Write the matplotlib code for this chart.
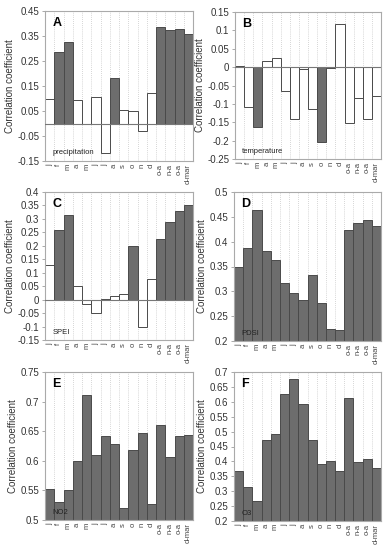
import matplotlib
matplotlib.use("Agg")
import matplotlib.pyplot as plt
import numpy as np

plt.rcParams['font.family'] = ['Liberation Sans', 'DejaVu Sans']

months = ["j", "f", "m", "a", "m", "j", "j", "a", "s", "o", "n", "d",
          "o-a", "n-a", "o-a", "d-mar"]

precipitation = [0.097, 0.286, 0.326, 0.095, -0.003, 0.106, -0.118, 0.183,
                 0.053, 0.049, -0.031, 0.122, 0.386, 0.374, 0.379, 0.359]
precip_sig = [0, 1, 1, 0, 0, 0, 0, 1, 0, 0, 0, 0, 1, 1, 1, 1]

temperature = [0.002, -0.109, -0.164, 0.016, 0.024, -0.066, -0.141, -0.005,
               -0.114, -0.205, -0.003, 0.116, -0.151, -0.084, -0.141, -0.078]
temp_sig = [0, 0, 1, 0, 0, 0, 0, 0, 0, 1, 0, 0, 0, 0, 0, 0]

spei = [0.127, 0.257, 0.316, 0.049, -0.015, -0.048, 0.004, 0.015,
        0.022, 0.199, -0.101, 0.078, 0.226, 0.287, 0.331, 0.350]
spei_sig = [0, 1, 1, 0, 0, 0, 0, 0, 0, 1, 0, 0, 1, 1, 1, 1]

pdsi = [0.348, 0.387, 0.464, 0.382, 0.364, 0.317, 0.296, 0.282,
        0.333, 0.277, 0.224, 0.222, 0.423, 0.437, 0.444, 0.431]
pdsi_sig = [1] * 16

no2 = [0.552, 0.531, 0.551, 0.600, 0.711, 0.610, 0.642, 0.628,
       0.520, 0.618, 0.647, 0.527, 0.660, 0.607, 0.642, 0.644]
no2_sig = [1] * 16

o3 = [0.369, 0.315, 0.266, 0.473, 0.493, 0.627, 0.675, 0.593,
      0.473, 0.391, 0.403, 0.369, 0.612, 0.399, 0.408, 0.379]
o3_sig = [1] * 16

panels = [
    ("A", "precipitation", precipitation, precip_sig, (-0.15, 0.45),
     [-0.15, -0.05, 0.05, 0.15, 0.25, 0.35, 0.45], True),
    ("B", "temperature", temperature, temp_sig, (-0.25, 0.15),
     [-0.25, -0.2, -0.15, -0.1, -0.05, 0, 0.05, 0.1, 0.15], True),
    ("C", "SPEI", spei, spei_sig, (-0.15, 0.4),
     [-0.15, -0.1, -0.05, 0, 0.05, 0.1, 0.15, 0.2, 0.25, 0.3, 0.35, 0.4], True),
    ("D", "PDSI", pdsi, pdsi_sig, (0.2, 0.5),
     [0.2, 0.25, 0.3, 0.35, 0.4, 0.45, 0.5], False),
    ("E", "NO2", no2, no2_sig, (0.5, 0.75),
     [0.5, 0.55, 0.6, 0.65, 0.7, 0.75], False),
    ("F", "O3", o3, o3_sig, (0.2, 0.7),
     [0.2, 0.25, 0.3, 0.35, 0.4, 0.45, 0.5, 0.55, 0.6, 0.65, 0.7], False),
]

W, H = 390, 550
fig = plt.figure(figsize=(W / 100, H / 100), dpi=100)

# pixel boxes: left, top, right, bottom
boxes = [
    (45, 11, 193, 161), (235, 12, 381, 159),
    (45, 192, 193, 340), (234, 192, 381, 341),
    (45, 372, 193, 520), (234, 372, 381, 521),
]

def fmt(v):
    s = ("%.2f" % v).rstrip("0").rstrip(".")
    if s == "-0":
        s = "0"
    return s

dark = "#6d6d6d"
edge = "#4a4a4a"
x = np.arange(len(months))

for (letter, name, vals, sig, ylim, yt, zero), (l, t, r, b) in zip(panels, boxes):
    ax = fig.add_axes([l / W, 1 - b / H, (r - l) / W, (b - t) / H])
    base = 0 if zero else ylim[0]
    heights = [v - base for v in vals]
    colors = [dark if s else "white" for s in sig]
    ax.bar(x, heights, bottom=base, width=1.0, color=colors, edgecolor=edge,
           linewidth=0.7, zorder=2)
    for xi in x[:-1]:
        ax.axvline(xi + 0.5, color="#c8c8c8", linestyle=(0, (1, 1.5)),
                   linewidth=0.6, zorder=1)
    if zero:
        ax.axhline(0, color="#777777", linewidth=0.8, zorder=3)
    ax.set_xlim(-0.5, len(months) - 0.5)
    ax.set_ylim(*ylim)
    ax.set_yticks(yt)
    ax.set_yticklabels([fmt(v) for v in yt], fontsize=7, color="#333333")
    ax.set_xticks(x)
    ax.set_xticklabels(months, rotation=90, fontsize=5.5, color="#444444")
    ax.tick_params(axis="x", length=0, pad=2)
    ax.tick_params(axis="y", length=2, width=0.5, color="#888888", pad=2)
    for sp in ax.spines.values():
        sp.set_color("#aaaaaa")
        sp.set_linewidth(0.8)
    ax.set_ylabel("Correlation coefficient", fontsize=7, color="#333333",
                  labelpad=2)
    ax.text(0.05, 0.96, letter, transform=ax.transAxes, fontsize=9,
            fontweight="bold", va="top", ha="left", zorder=5)
    ax.text(0.05, 0.03, name, transform=ax.transAxes, fontsize=5.5,
            va="bottom", ha="left", color="#222222", zorder=5)

fig.savefig("out.png", dpi=100)
